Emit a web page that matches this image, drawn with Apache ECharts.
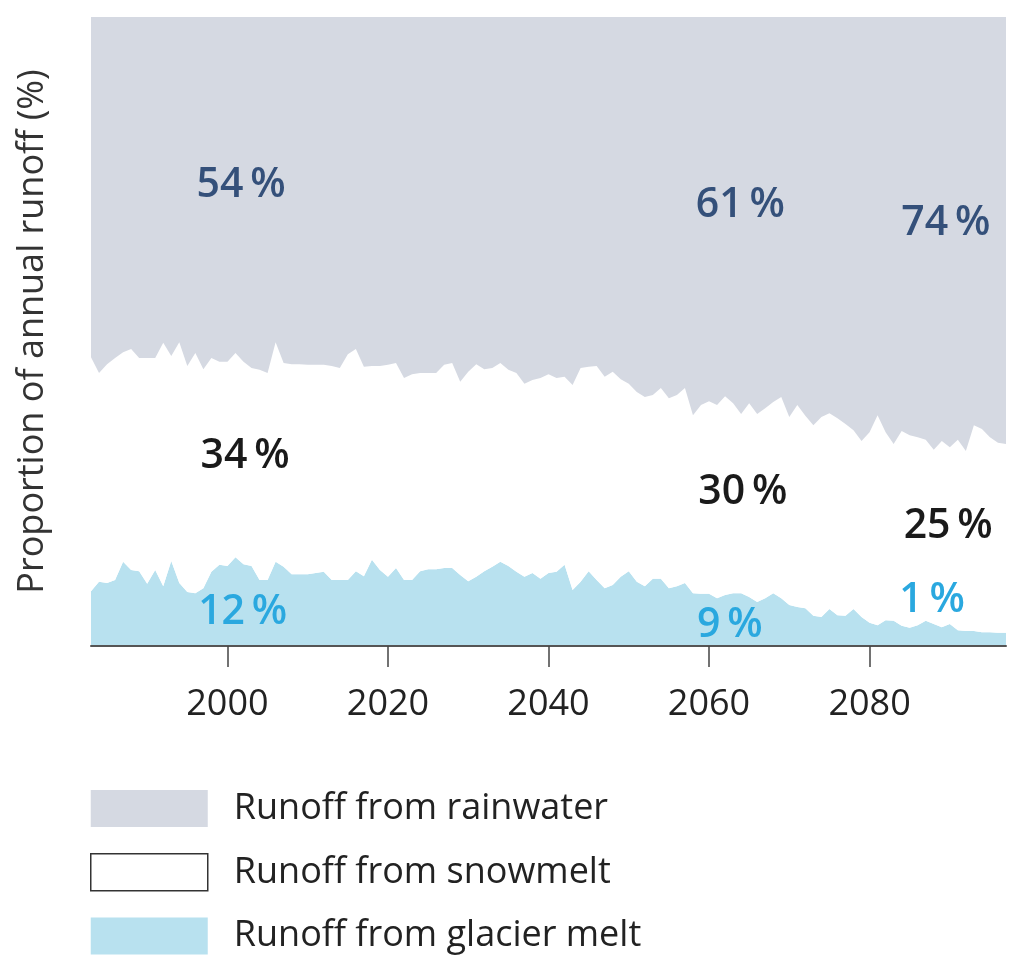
<!DOCTYPE html>
<html>
<head>
<meta charset="utf-8">
<script src="https://cdn.jsdelivr.net/npm/echarts@6/dist/echarts.min.js"></script>
<style>
html, body { margin: 0; padding: 0; background: #fff; }
#chart { width: 1024px; height: 961px; }
</style>
</head>
<body>
<div id="chart"></div>
<script>
// years 1983 .. 2097, one point per year
var firstYear = 1983;
var lastYear = 2097;
var years = [];
for (var y = firstYear; y <= lastYear; y++) years.push(String(y));

// share of annual runoff (%)
var glacier = [
	8.7, 10.2, 10.0, 10.5, 13.4, 12.1, 11.9, 9.9, 12.1, 9.5,
	13.5, 10.0, 8.6, 8.4, 9.2, 11.8, 12.9, 12.7, 14.1, 13.0,
	12.7, 10.5, 10.5, 13.4, 12.6, 11.4, 11.4, 11.4, 11.6, 11.8,
	10.5, 10.5, 10.5, 11.9, 11.1, 13.7, 12.1, 11.0, 12.4, 10.5,
	10.5, 11.9, 12.2, 12.2, 12.4, 12.4, 11.3, 10.3, 11.0, 11.9,
	12.6, 13.4, 12.7, 11.8, 11.0, 11.6, 10.7, 11.6, 11.8, 12.9,
	8.9, 10.2, 11.9, 10.5, 9.2, 9.7, 11.0, 11.9, 10.2, 9.5,
	10.7, 10.7, 9.2, 9.5, 10.0, 8.4, 8.3, 8.3, 7.6, 8.1,
	8.4, 8.4, 7.8, 7.0, 7.6, 8.4, 7.6, 6.5, 6.2, 6.0,
	4.8, 4.6, 5.9, 4.9, 4.8, 5.9, 4.6, 3.7, 3.3, 4.1,
	4.0, 3.2, 2.9, 3.3, 4.0, 3.5, 3.0, 3.5, 2.5, 2.4,
	2.4, 2.2, 2.2, 2.1, 2.1
];
var snow = [
	37.2, 33.2, 34.8, 35.3, 33.3, 35.1, 33.9, 35.9, 33.7, 38.7,
	32.6, 38.3, 35.9, 38.2, 34.8, 34.0, 32.3, 32.5, 32.5, 32.2,
	31.5, 33.4, 32.9, 34.9, 32.4, 33.4, 33.4, 33.3, 33.1, 32.9,
	34.0, 33.7, 35.9, 35.3, 33.3, 30.8, 32.4, 33.7, 32.6, 32.1,
	32.7, 31.5, 31.2, 31.2, 32.3, 32.6, 30.7, 33.3, 33.8, 32.1,
	31.6, 31.6, 31.2, 31.6, 30.7, 30.7, 31.9, 31.6, 30.8, 29.9,
	32.6, 34.0, 32.5, 34.0, 33.6, 33.9, 31.4, 29.8, 30.2, 30.1,
	29.2, 30.3, 30.2, 30.4, 31.0, 28.3, 30.0, 30.6, 30.7, 31.6,
	30.2, 28.5, 30.8, 29.9, 30.2, 30.4, 32.0, 29.9, 32.1, 30.6,
	30.3, 31.8, 31.1, 31.3, 30.5, 28.4, 28.0, 30.3, 33.4, 29.9,
	28.1, 31.0, 30.6, 29.9, 28.8, 27.7, 29.6, 28.1, 30.3, 28.6,
	32.7, 32.3, 31.0, 30.2, 30.0
];
var rain = [
	54.1, 56.6, 55.2, 54.2, 53.3, 52.8, 54.2, 54.2, 54.2, 51.8,
	53.9, 51.7, 55.5, 53.4, 56.0, 54.2, 54.8, 54.8, 53.4, 54.8,
	55.8, 56.1, 56.6, 51.7, 55.0, 55.2, 55.2, 55.3, 55.3, 55.3,
	55.5, 55.8, 53.6, 52.8, 55.6, 55.5, 55.5, 55.3, 55.0, 57.4,
	56.8, 56.6, 56.6, 56.6, 55.3, 55.0, 58.0, 56.4, 55.2, 56.0,
	55.8, 55.0, 56.1, 56.6, 58.3, 57.7, 57.4, 56.8, 57.4, 57.2,
	58.5, 55.8, 55.6, 55.5, 57.2, 56.4, 57.6, 58.3, 59.6, 60.4,
	60.1, 59.0, 60.6, 60.1, 59.0, 63.3, 61.7, 61.1, 61.7, 60.3,
	61.4, 63.1, 61.4, 63.1, 62.2, 61.2, 60.4, 63.6, 61.7, 63.4,
	64.9, 63.6, 63.0, 63.8, 64.7, 65.7, 67.4, 66.0, 63.3, 66.0,
	67.9, 65.8, 66.5, 66.8, 67.2, 68.8, 67.4, 68.4, 67.2, 69.0,
	64.9, 65.5, 66.8, 67.7, 67.9
];

var tickStep = 20; // labelled years: 2000, 2020, ... 2080

// percentage labels inside the areas (year, % height, text)
var labelText  = ['54\u2009%', '61\u2009%', '74\u2009%', '34\u2009%', '30\u2009%', '25\u2009%', '12\u2009%', '9\u2009%', '1\u2009%'];
var labelYear  = [2001.7, 2063.9, 2089.5, 2002.2, 2064.2, 2089.8, 2001.9, 2062.6, 2087.8];
var labelValue = [73.3, 70.0, 67.2, 30.2, 24.5, 19.1, 5.4, 3.3, 7.3];
var labelKind  = ['rain', 'rain', 'rain', 'snow', 'snow', 'snow', 'glacier', 'glacier', 'glacier'];

var colors = { rain: '#d5d9e2', snow: '#ffffff', glacier: '#b8e1ef' };
var textColors = { rain: '#34507a', snow: '#1a1a1a', glacier: '#2aa8df' };
var FONT = '"Open Sans", "Noto Sans", sans-serif';

function isTickYear(index, value) {
	return Number(value) % tickStep === 0;
}

function areaSeries(name, vals, color) {
	return {
		name: name,
		type: 'line',
		stack: 'runoff',
		data: vals,
		symbol: 'none',
		lineStyle: { width: 0 },
		itemStyle: { color: color },
		areaStyle: { color: color, opacity: 1 },
		emphasis: { disabled: true },
		silent: true
	};
}

var myChart = echarts.init(document.getElementById('chart'));
var option = {
	animation: false,
	grid: { left: 91, right: 18, top: 17, bottom: 315 },
	xAxis: {
		type: 'category',
		data: years,
		boundaryGap: false,
		z: 10,
		axisLine: { onZero: false, lineStyle: { color: '#555', width: 2 } },
		axisTick: { show: true, inside: false, length: 21, interval: isTickYear, lineStyle: { color: '#444', width: 1.5 } },
		axisLabel: { interval: isTickYear, margin: 41, fontSize: 36, color: '#222', fontFamily: FONT },
		splitLine: { show: false }
	},
	yAxis: {
		type: 'value',
		min: 0,
		max: 100,
		name: 'Proportion of annual runoff (%)',
		nameLocation: 'middle',
		nameGap: 40,
		nameTextStyle: { fontSize: 36, color: '#333', fontFamily: FONT },
		axisLine: { show: false },
		axisTick: { show: false },
		axisLabel: { show: false },
		splitLine: { show: false }
	},
	legend: {
		orient: 'vertical',
		left: 90,
		top: 790,
		padding: 0,
		icon: 'rect',
		itemWidth: 117,
		itemHeight: 37,
		itemGap: 26,
		selectedMode: false,
		itemStyle: { borderWidth: 0 },
		textStyle: { fontSize: 36, color: '#222', fontFamily: FONT, padding: [0, 0, 0, 21] },
		data: [
			{ name: 'Runoff from rainwater' },
			{ name: 'Runoff from snowmelt', itemStyle: { borderColor: '#333', borderWidth: 1.5 } },
			{ name: 'Runoff from glacier melt' }
		]
	},
	series: [
		areaSeries('Runoff from glacier melt', glacier, colors.glacier),
		areaSeries('Runoff from snowmelt', snow, colors.snow),
		areaSeries('Runoff from rainwater', rain, colors.rain)
	]
};
myChart.setOption(option);

// place the percentage labels at data coordinates (fractional year between categories)
function yearToPixelX(yr) {
	var i = Math.floor(yr - firstYear);
	var x0 = myChart.convertToPixel({ xAxisIndex: 0 }, i);
	var x1 = myChart.convertToPixel({ xAxisIndex: 0 }, i + 1);
	return x0 + (x1 - x0) * (yr - firstYear - i);
}
var texts = labelText.map(function(t, i) {
	return {
		type: 'text',
		x: yearToPixelX(labelYear[i]),
		y: myChart.convertToPixel({ yAxisIndex: 0 }, labelValue[i]),
		z: 100,
		style: {
			text: t,
			fill: textColors[labelKind[i]],
			font: '600 41px ' + FONT,
			align: 'center',
			verticalAlign: 'middle'
		}
	};
});
myChart.setOption({ graphic: texts });
</script>
</body>
</html>
